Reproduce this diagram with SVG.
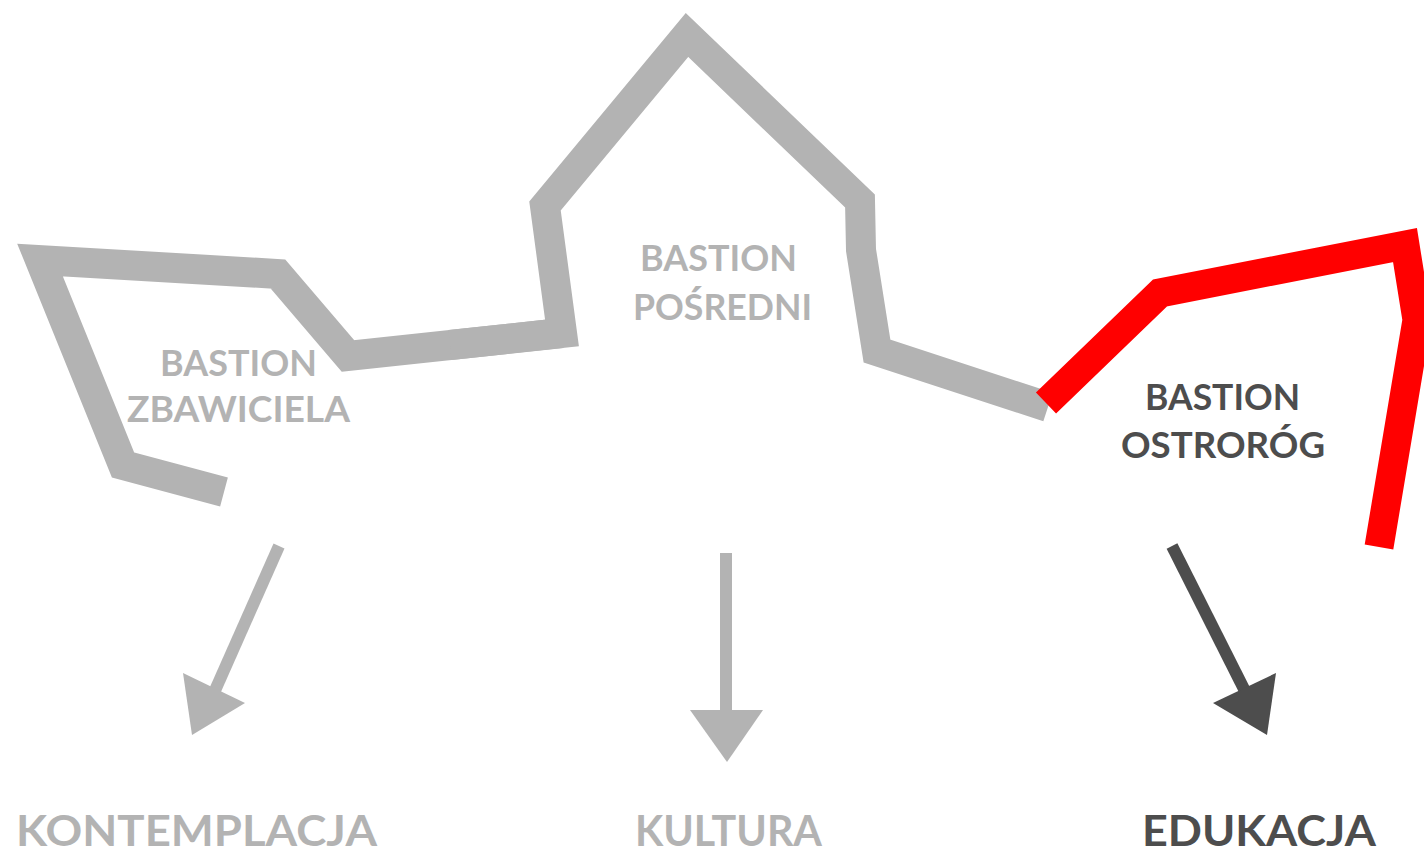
<svg xmlns="http://www.w3.org/2000/svg" width="1424" height="857" viewBox="0 0 1424 857">
<style>
.wall{fill:none;stroke:#b3b3b3;stroke-width:30;stroke-linejoin:miter;stroke-miterlimit:10;stroke-linecap:butt}
.red{fill:none;stroke:#ff0000;stroke-width:29;stroke-linejoin:miter;stroke-miterlimit:10;stroke-linecap:butt}
.lbl{font-family:Lato,"Open Sans","Liberation Sans",sans-serif;font-weight:700;font-size:37px}
.big{font-family:Lato,"Open Sans","Liberation Sans",sans-serif;font-weight:700;font-size:42px}
.g{fill:#b3b3b3}
.d{fill:#4d4d4d}
.shaftg{stroke:#b3b3b3;stroke-width:12;fill:none}
.shaftd{stroke:#4d4d4d;stroke-width:12;fill:none}
</style>
<rect width="1424" height="857" fill="#ffffff"/>
<g id="bastion-zbawiciela">
<polyline class="wall" points="224,492 123,465 40,260 278,274 348,356 562,333"/>
<text class="lbl g" x="160" y="376" textLength="157" lengthAdjust="spacingAndGlyphs">BASTION</text>
<text class="lbl g" x="127" y="422" textLength="223" lengthAdjust="spacingAndGlyphs">ZBAWICIELA</text>
</g>
<g id="bastion-posredni">
<polyline class="wall" points="450,345 562,333 545,206 687,35 860,201 861,250 877,351 1048,407"/>
<text class="lbl g" x="640" y="271" textLength="157" lengthAdjust="spacingAndGlyphs">BASTION</text>
<text class="lbl g" x="633" y="320" textLength="179" lengthAdjust="spacingAndGlyphs">POŚREDNI</text>
</g>
<g id="bastion-ostrorog">
<polyline class="red" points="1046,403 1160,293 1405,245 1417,320 1379,547"/>
<text class="lbl d" x="1145" y="410" textLength="155" lengthAdjust="spacingAndGlyphs">BASTION</text>
<text class="lbl d" x="1121" y="458" textLength="204" lengthAdjust="spacingAndGlyphs">OSTRORÓG</text>
</g>
<g id="connectors">
<line class="shaftg" x1="279" y1="546" x2="213" y2="695"/>
<polygon class="g" points="183,673 245,703 192,735"/>
<line class="shaftg" x1="726" y1="553" x2="726" y2="712"/>
<polygon class="g" points="690,710 763,710 727,762"/>
<line class="shaftd" x1="1172" y1="546" x2="1247" y2="695"/>
<polygon class="d" points="1213,703 1276,673 1267,735"/>
</g>
<g id="kontemplacja"><text class="big g" x="16" y="846" textLength="361" lengthAdjust="spacingAndGlyphs">KONTEMPLACJA</text></g>
<g id="kultura"><text class="big g" x="635" y="846" textLength="187" lengthAdjust="spacingAndGlyphs">KULTURA</text></g>
<g id="edukacja"><text class="big d" x="1142" y="846" textLength="234" lengthAdjust="spacingAndGlyphs">EDUKACJA</text></g>
</svg>
